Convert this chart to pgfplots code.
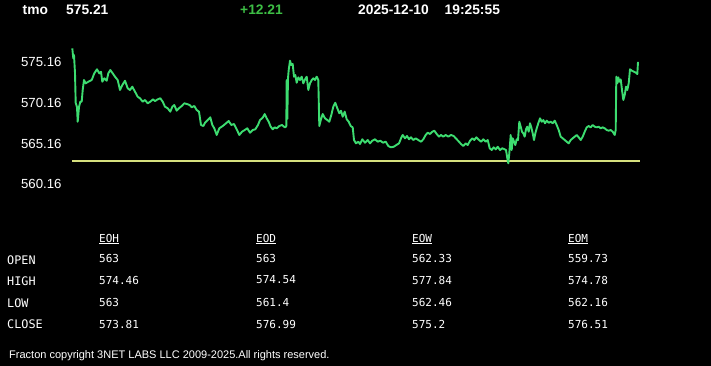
\documentclass[border=0pt]{standalone}
\usepackage{pgfplots}
\pgfplotsset{compat=1.18}
\usepackage{fontspec}
\setmainfont{Liberation Sans}
\newfontfamily\mono{DejaVu Sans Mono}
\definecolor{linegreen}{HTML}{3DDC70}
\definecolor{openyellow}{HTML}{D6E07E}
\definecolor{chggreen}{HTML}{3DBE45}
\begin{document}
\begin{tikzpicture}
% background: picture spans px 0..711, 0..366; axis SW corner at px (72,200)
\fill[black] (-72pt,-166pt) rectangle (639pt,200pt);
\begin{axis}[
  at={(0pt,0pt)}, anchor=south west,
  scale only axis, width=568pt, height=160pt,
  xmin=72, xmax=640, ymin=558.20, ymax=577.91,
  axis line style={draw=none}, major tick length=0pt,
  xtick=\empty,
  ytick={560.16,565.16,570.16,575.16},
  yticklabels={560.16,565.16,570.16,575.16},
  yticklabel style={font=\fontsize{13.2}{15}\selectfont, text=white, anchor=east, xshift=-7pt},
  clip=false,
]
\addplot[openyellow, line width=2.2pt] coordinates {(72,563.0) (640,563.0)};
\addplot[linegreen, line width=1.9pt, line join=round] coordinates {
(72.3,576.88) (73.3,575.65) (74,576.06) (75,573.84) (75.7,570.15) (77,569.65) (77.7,567.84) (79,569.65)
(80.3,570.31) (81.7,570.31) (82.7,571.75) (84,572.98) (85.7,572.57) (88.3,572.77) (91.7,572.98) (94.3,573.80)
(97,574.30) (99.3,573.80) (101,574.00) (102.3,572.77) (104.3,573.19) (106.7,572.89) (108.3,573.80) (110.3,574.21)
(112.7,573.80) (115,573.39) (117.7,572.98) (120,571.75) (122.3,572.36) (125,572.89) (127.7,571.96) (130,571.75)
(132.3,572.16) (135,571.54) (137.7,570.92) (140,570.73) (142.7,570.31) (145,570.52) (147.7,570.11) (150.3,570.31)
(153,570.60) (155,570.39) (157.7,570.60) (160.3,570.73) (162.7,570.31) (165,569.69) (167.7,569.50) (170.3,569.08)
(172.3,569.69) (174.3,569.90) (176.7,569.20) (179,569.50) (181.7,569.78) (184.3,570.11) (187,570.02) (189.7,569.90)
(191.7,569.62) (194.3,569.78) (196.7,569.28) (199,569.08) (201,567.44) (203.3,567.31) (205,567.72) (207.7,568.05)
(210.3,568.39) (212.3,567.44) (214.3,567.03) (216.7,566.21) (219.3,567.03) (222.7,567.31) (226,567.65) (228.7,567.93)
(231.3,567.44) (234,567.56) (236.7,566.91) (239.3,566.21) (242,566.61) (244.7,566.82) (247.3,567.03) (250,566.49)
(252.7,566.82) (255.3,566.91) (258,567.44) (260,568.05) (262.7,568.34) (264.7,568.79) (266.7,568.26) (268.7,567.84)
(270.7,567.23) (272.7,566.91) (274.7,567.15) (276.7,567.03) (279.3,567.31) (282,567.44) (284,567.23) (285.3,567.15)
(286.3,567.31) (286.7,572.98) (287.3,568.18) (288,573.22) (288.7,574.21) (290,575.36) (291.3,574.83) (292.7,574.95)
(294,573.39) (295.3,573.59) (296.7,572.65) (298.3,573.31) (300,572.98) (301.7,573.39) (303.3,572.57) (305,573.06)
(306.7,573.39) (308.3,571.75) (310,572.57) (311.7,572.98) (313.3,573.19) (315,572.98) (316.7,573.39) (318.3,572.98)
(319.3,567.31) (321,568.14) (322.7,568.79) (325,568.26) (327.3,568.05) (329.3,567.84) (331.3,568.67) (333.3,569.69)
(335.3,570.18) (337.3,569.50) (339.3,568.88) (341,569.20) (342.7,568.46) (344.7,569.08) (346.7,568.14) (348.7,567.84)
(350.7,567.31) (352.7,567.15) (354,565.59) (356,565.18) (358.3,565.38) (360,565.10) (362.3,565.68) (365,565.26)
(367.7,565.59) (370,565.18) (372.3,565.50) (375,565.68) (377.7,565.38) (380.3,565.50) (383,565.26) (385.7,565.38)
(388.3,564.85) (391,564.69) (393.7,564.76) (396.3,564.97) (399,565.18) (401,565.80) (402.7,566.21) (405,565.80)
(407,566.08) (409,565.68) (411,565.92) (413.3,565.59) (415.7,565.80) (418.3,565.59) (421,565.38) (423.3,565.68)
(425.7,566.21) (427.7,566.49) (430,566.33) (432.3,566.61) (434.3,566.74) (436.7,566.33) (439,566.00) (441,566.21)
(443.3,566.00) (445.7,566.21) (448.3,566.00) (451,566.21) (453.7,566.08) (456.7,565.68) (459,565.38) (461,565.10)
(463.3,564.85) (465.7,565.18) (467.7,564.97) (470,565.50) (472.3,565.80) (474.3,565.59) (476.3,565.92) (478.3,565.68)
(481,565.38) (483.3,565.68) (485.7,565.38) (487.7,565.59) (489.7,564.57) (491.7,564.36) (493.7,564.69) (495.7,564.44)
(497.7,564.76) (500,564.36) (502.3,564.57) (504.7,564.44) (506,564.36) (507.3,563.34) (508.3,562.72) (509.3,563.95)
(510.7,566.21) (511.7,564.36) (512.7,565.80) (514,565.38) (515.3,564.97) (516.7,565.68) (518,565.59) (519.3,567.84)
(520.7,567.23) (522,566.61) (523.3,566.41) (524.7,566.00) (526,566.91) (527.3,567.23) (528.7,566.61) (530,567.65)
(531.3,567.15) (532.7,566.41) (534,565.59) (535.3,566.41) (536.7,567.03) (538.3,567.65) (540,568.26) (541.7,567.84)
(543.3,568.05) (545,567.65) (546.7,567.97) (548.7,567.72) (550.7,567.84) (552.7,567.65) (554.7,567.97) (556.7,567.44)
(558.7,566.82) (560.7,566.00) (562.7,565.80) (564.7,565.59) (566.7,565.38) (568.7,565.18) (570.7,565.59) (572.7,565.80)
(574.7,566.00) (576.7,566.21) (578.7,565.92) (580.7,565.59) (582.7,566.00) (584.7,566.61) (586.7,567.15) (588.7,567.31)
(590.7,567.15) (592.7,567.44) (594.7,567.23) (596.7,567.15) (598.7,567.23) (600.7,567.03) (602.7,567.15) (604.7,567.03)
(606.7,566.82) (608.7,566.74) (610.7,566.82) (612.7,566.61) (614.7,566.21) (615.7,566.82) (616.3,573.39) (617.3,572.57)
(618.3,573.31) (619.3,572.77) (620.7,573.06) (622,571.75) (623.3,570.52) (624.7,571.13) (626,572.16) (627.3,571.75)
(628.7,572.57) (630,574.30) (632,574.12) (634,574.00) (636,573.88) (637.3,573.72) (638,575.21)
};
\end{axis}
% header (px -> (px-72, 200-py))
\begin{scope}[every node/.style={text=white, inner sep=0pt, anchor=west, font=\fontsize{13.8}{15}\selectfont\bfseries}]
\node at (-49.5pt,190pt) {tmo};
\node at (-6pt,190pt) {575.21};
\node[text=chggreen] at (168pt,190pt) {+12.21};
\node at (286pt,190pt) {2025-12-10};
\node at (372.5pt,190pt) {19:25:55};
\end{scope}
% table
\begin{scope}[every node/.style={text=white, inner sep=0pt, anchor=west, font=\mono\fontsize{11}{12}\selectfont}]
\node at (27pt,-39pt) {\underline{EOH}};
\node at (184pt,-39pt) {\underline{EOD}};
\node at (340pt,-39pt) {\underline{EOW}};
\node at (496pt,-39pt) {\underline{EOM}};
\node at (27pt,-58pt) {563};
\node at (184pt,-58pt) {563};
\node at (340pt,-58pt) {562.33};
\node at (496pt,-58pt) {559.73};
\node at (27pt,-80pt) {574.46};
\node at (184pt,-80pt) {574.54};
\node at (340pt,-80pt) {577.84};
\node at (496pt,-80pt) {574.78};
\node at (27pt,-102pt) {563};
\node at (184pt,-102pt) {561.4};
\node at (340pt,-102pt) {562.46};
\node at (496pt,-102pt) {562.16};
\node at (27pt,-124pt) {573.81};
\node at (184pt,-124pt) {576.99};
\node at (340pt,-124pt) {575.2};
\node at (496pt,-124pt) {576.51};
\end{scope}
\begin{scope}[every node/.style={text=white, inner sep=0pt, anchor=west, font=\mono\fontsize{11.8}{13}\selectfont}]
\node at (-65pt,-60pt) {OPEN};
\node at (-65pt,-81pt) {HIGH};
\node at (-65pt,-103pt) {LOW};
\node at (-65pt,-124pt) {CLOSE};
\end{scope}
\node[text=white, inner sep=0pt, anchor=west, font=\fontsize{11}{12}\selectfont] at (-63pt,-155.7pt) {Fracton copyright 3NET LABS LLC 2009-2025.All rights reserved.};
\end{tikzpicture}
\end{document}
